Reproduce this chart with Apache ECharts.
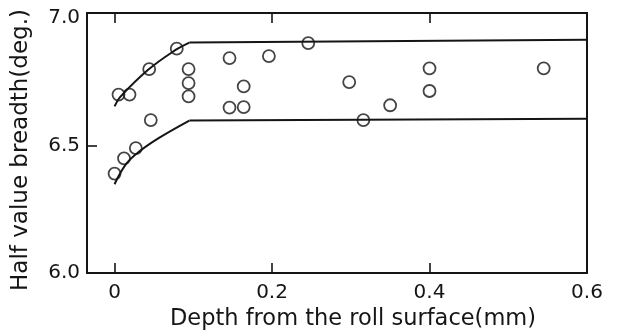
<!DOCTYPE html>
<html>
<head>
<meta charset="utf-8">
<script src="https://cdn.jsdelivr.net/npm/echarts@6/dist/echarts.min.js"></script>
<style>
  html, body { margin: 0; padding: 0; background: #fff; }
  #chart { width: 622px; height: 330px; }
</style>
</head>
<body>
<div id="chart"></div>
<script>
// measured points (depth mm, half value breadth deg.)
const depth = [0.0, 0.005, 0.012, 0.019, 0.027, 0.044, 0.046, 0.079, 0.094, 0.094, 0.094,
  0.146, 0.146, 0.164, 0.164, 0.196, 0.246, 0.298, 0.316, 0.35, 0.4, 0.4, 0.545]
const breadth = [6.39, 6.70, 6.45, 6.70, 6.49, 6.80, 6.60, 6.88, 6.80, 6.745, 6.693,
  6.843, 6.649, 6.732, 6.651, 6.851, 6.902, 6.749, 6.60, 6.658, 6.803, 6.714, 6.803]

// upper / lower envelope lines: curved near the surface, then flat
const upperX = [0.0, 0.007, 0.043, 0.078, 0.095, 0.6]
const upperY = [6.654, 6.690, 6.798, 6.876, 6.904, 6.915]
const lowerX = [0.0, 0.015, 0.032, 0.057, 0.095, 0.6]
const lowerY = [6.348, 6.429, 6.478, 6.531, 6.598, 6.605]

const xTicks = [0, 0.2, 0.4]
const xLabels = [0, 0.2, 0.4, 0.6]
const yTicks = [6.5]
const yLabels = [6.0, 6.5, 7.0]

const ink = '#151515'
const font = 'DejaVu Sans'

const zip = (a, b) => a.map((v, i) => [v, b[i]])
// the knee is the 5th point; curve part is smoothed, flat part is straight
const curvePart = (a, b) => zip(a, b).slice(0, 5)
const flatPart = (a, b) => zip(a, b).slice(4)

const chart = echarts.init(document.getElementById('chart'))

const frameLine = { show: true, onZero: false, lineStyle: { color: ink, width: 2 } }
const tickStyle = { color: ink, width: 1.6 }
const lineStyle = { color: ink, width: 2 }

const options = {
  animation: false,
  grid: { left: 87, right: 35, top: 13, bottom: 57, outerBoundsMode: 'none' },
  xAxis: [
    {
      type: 'value',
      min: -0.035,
      max: 0.6,
      name: 'Depth from the roll surface(mm)',
      nameLocation: 'middle',
      nameGap: 28,
      nameTextStyle: { fontFamily: font, fontSize: 22.5, color: ink, padding: [0, 0, 0, 32] },
      axisLine: frameLine,
      axisTick: { inside: true, length: 10, customValues: xTicks, lineStyle: tickStyle },
      axisLabel: {
        customValues: xLabels,
        margin: 10,
        fontFamily: font, fontSize: 20, color: ink,
        formatter: v => v === 0 ? '0' : v.toFixed(1)
      },
      splitLine: { show: false }
    },
    {
      type: 'value',
      position: 'top',
      min: -0.035,
      max: 0.6,
      axisLine: frameLine,
      axisTick: { inside: true, length: 10, customValues: xTicks, lineStyle: tickStyle },
      axisLabel: { show: false },
      splitLine: { show: false }
    }
  ],
  yAxis: [
    {
      type: 'value',
      min: 6.0,
      max: 7.02,
      name: 'Half value breadth(deg.)',
      nameLocation: 'middle',
      nameGap: 54,
      nameTextStyle: { fontFamily: font, fontSize: 23, color: ink, padding: [0, 14, 0, 0] },
      axisLine: frameLine,
      axisTick: { inside: true, length: 10, customValues: yTicks, lineStyle: tickStyle },
      axisLabel: {
        customValues: yLabels,
        margin: 7,
        padding: [10, 0, 0, 0],
        fontFamily: font, fontSize: 20, color: ink,
        formatter: v => v.toFixed(1)
      },
      splitLine: { show: false }
    },
    {
      type: 'value',
      position: 'right',
      min: 6.0,
      max: 7.02,
      axisLine: frameLine,
      axisTick: { show: false },
      axisLabel: { show: false },
      splitLine: { show: false }
    }
  ],
  series: [
    { type: 'line', data: curvePart(upperX, upperY), smooth: 0.4, showSymbol: false, lineStyle },
    { type: 'line', data: flatPart(upperX, upperY), showSymbol: false, lineStyle },
    { type: 'line', data: curvePart(lowerX, lowerY), smooth: 0.4, showSymbol: false, lineStyle },
    { type: 'line', data: flatPart(lowerX, lowerY), showSymbol: false, lineStyle },
    {
      type: 'scatter',
      data: zip(depth, breadth),
      symbol: 'circle',
      symbolSize: 12,
      itemStyle: { color: 'transparent', borderColor: ink, borderWidth: 1.8 }
    }
  ]
}

chart.setOption(options)
</script>
</body>
</html>
